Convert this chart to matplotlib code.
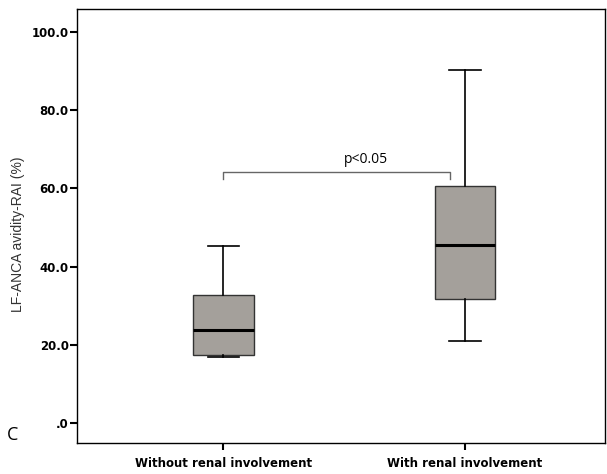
import matplotlib.pyplot as plt

# Box statistics (values in %)
groups = ['Without renal involvement', 'With renal involvement']
whisker_low = [16.9, 21.0]
q1 = [17.4, 31.7]
median = [23.8, 45.5]
q3 = [32.7, 60.6]
whisker_high = [45.3, 90.3]

ytick_vals = [0, 20, 40, 60, 80, 100]
ytick_labels = ['.0', '20.0', '40.0', '60.0', '80.0', '100.0']

# significance bracket
bracket_y = 64.2
bracket_drop = 1.8
p_text = 'p<0.05'

plt.rcParams['font.family'] = ['Liberation Sans', 'DejaVu Sans']

fig = plt.figure(figsize=(6.07, 4.74), dpi=100)
ax = fig.add_axes([0.127, 0.0654, 0.870, 0.9156])

stats = []
for i in range(len(groups)):
    stats.append({'whislo': whisker_low[i], 'q1': q1[i], 'med': median[i],
                  'q3': q3[i], 'whishi': whisker_high[i], 'fliers': []})

ax.bxp(stats, positions=[1, 2], widths=0.25, patch_artist=True,
       showfliers=False,
       boxprops=dict(facecolor='#a4a09b', edgecolor='#333333', linewidth=1.0),
       medianprops=dict(color='black', linewidth=2.2),
       whiskerprops=dict(color='black', linewidth=1.2),
       capprops=dict(color='black', linewidth=1.2),
       capwidths=0.13)

# bracket between groups
x1, x2 = 1.0, 1.94
ax.plot([x1, x1, x2, x2],
        [bracket_y - bracket_drop, bracket_y, bracket_y, bracket_y - bracket_drop],
        color='#666666', linewidth=1.0)
ax.text(1.59, bracket_y + 1.2, p_text, ha='center', va='bottom', fontsize=10,
        family=['Open Sans', 'DejaVu Sans'])

ax.set_xlim(0.395, 2.58)
ax.set_ylim(-5.1, 105.9)
ax.set_xticks([1, 2])
ax.set_xticklabels(groups, fontsize=8.5, fontweight='bold', family='DejaVu Sans')
ax.set_yticks(ytick_vals)
ax.set_yticklabels(ytick_labels, fontsize=8.5, fontweight='bold', family='DejaVu Sans')
ax.tick_params(axis='both', direction='out', length=5, width=1.5, color='black')
ax.tick_params(axis='y', pad=1)
ax.tick_params(axis='x', pad=5)
for s in ax.spines.values():
    s.set_linewidth(1.0)
    s.set_color('black')

fig.text(18 / 607, 1 - 234 / 474, 'LF-ANCA avidity-RAI (%)', fontsize=10,
         color='#333333', rotation=90, ha='center', va='center')

fig.text(0.012, 0.072, 'C', fontsize=13, family=['Open Sans', 'DejaVu Sans'])

fig.savefig('out.png', dpi=100)
